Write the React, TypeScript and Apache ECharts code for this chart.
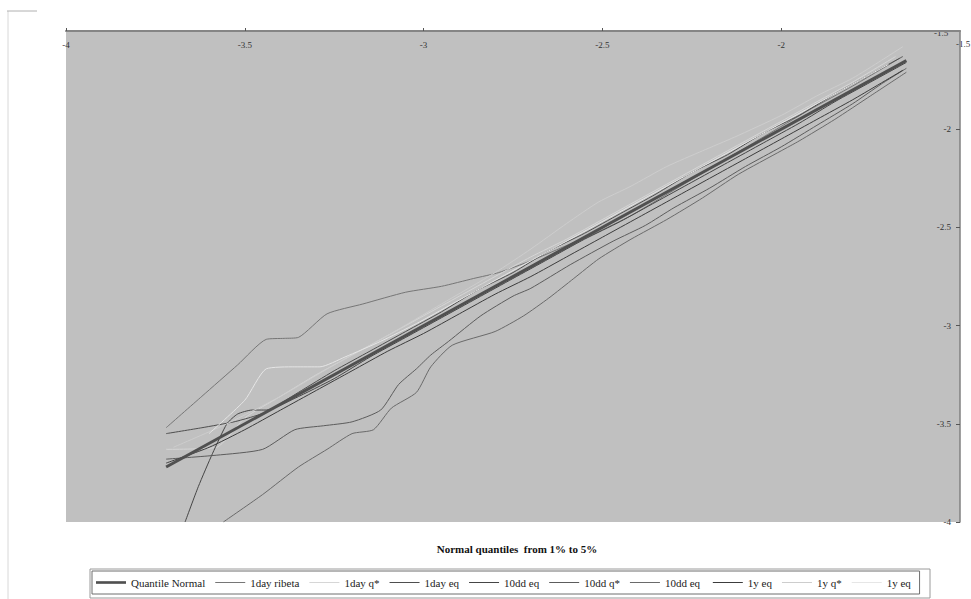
import React, { useEffect, useRef } from "react";
import * as echarts from "echarts";

// Axis ranges (normal quantiles)
const axisMin = -4;
const axisMax = -1.5;
const axisStep = 0.5;
const maxTickLabel = "-1.5";

const seriesNames = [
  "Quantile Normal",
  "1day ribeta",
  "1day q*",
  "1day eq",
  "10dd eq",
  "10dd q*",
  "10dd eq ",
  "1y eq",
  "1y q*",
  "1y eq ",
];

const quantileNormal: number[][] = [[-3.72, -3.72], [-1.65, -1.65]];

const day1Ribeta: number[][] = [
  [-3.72, -3.52], [-3.62, -3.36], [-3.52, -3.2], [-3.44, -3.07], [-3.39, -3.065], [-3.35, -3.06],
  [-3.27, -2.94], [-3.17, -2.89], [-3.05, -2.83], [-2.95, -2.8], [-2.86, -2.76], [-2.79, -2.73],
  [-2.7, -2.67], [-2.61, -2.6], [-2.52, -2.53], [-2.42, -2.44], [-2.3, -2.31], [-2.18, -2.18],
  [-2.05, -2.04], [-1.92, -1.9], [-1.8, -1.78], [-1.67, -1.64],
];

const day1Q: number[][] = [
  [-3.72, -3.63], [-3.58, -3.62], [-3.5, -3.47], [-3.4, -3.36], [-3.3, -3.25], [-3.2, -3.15],
  [-3.1, -3.05], [-3.0, -2.95], [-2.9, -2.85], [-2.8, -2.75], [-2.7, -2.65], [-2.6, -2.56],
  [-2.5, -2.46], [-2.4, -2.36], [-2.3, -2.26], [-2.2, -2.16], [-2.1, -2.06], [-2.0, -1.96],
  [-1.9, -1.86], [-1.8, -1.76], [-1.68, -1.63],
];

const day1Eq: number[][] = [
  [-3.72, -3.55], [-3.62, -3.52], [-3.53, -3.49], [-3.48, -3.465], [-3.44, -3.44], [-3.35, -3.34],
  [-3.25, -3.23], [-3.15, -3.13], [-3.05, -3.03], [-2.95, -2.93], [-2.85, -2.82], [-2.75, -2.73],
  [-2.65, -2.62], [-2.55, -2.53], [-2.45, -2.43], [-2.35, -2.33], [-2.25, -2.22], [-2.15, -2.13],
  [-2.05, -2.02], [-1.95, -1.93], [-1.85, -1.82], [-1.75, -1.72], [-1.66, -1.63],
];

const dd10Eq: number[][] = [
  [-3.667, -4.0], [-3.63, -3.82], [-3.59, -3.65], [-3.55, -3.5], [-3.52, -3.45], [-3.48, -3.43],
  [-3.44, -3.43], [-3.36, -3.37], [-3.25, -3.27], [-3.15, -3.16], [-3.05, -3.06], [-2.95, -2.96],
  [-2.85, -2.86], [-2.75, -2.76], [-2.65, -2.66], [-2.55, -2.56], [-2.45, -2.47], [-2.35, -2.37],
  [-2.25, -2.27], [-2.15, -2.17], [-2.05, -2.07], [-1.95, -1.97], [-1.85, -1.86], [-1.75, -1.76],
  [-1.65, -1.66],
];

const dd10Q: number[][] = [
  [-3.72, -3.68], [-3.58, -3.66], [-3.45, -3.63], [-3.36, -3.53], [-3.28, -3.51], [-3.2, -3.49],
  [-3.12, -3.43], [-3.07, -3.3], [-3.02, -3.22], [-2.98, -3.15], [-2.93, -3.08], [-2.84, -2.95],
  [-2.75, -2.85], [-2.7, -2.81], [-2.59, -2.69], [-2.47, -2.57], [-2.38, -2.49], [-2.3, -2.4],
  [-2.2, -2.3], [-2.1, -2.19], [-2.0, -2.09], [-1.9, -1.98], [-1.8, -1.87], [-1.72, -1.77],
  [-1.65, -1.69],
];

const dd10Eq2: number[][] = [
  [-3.56, -4.0], [-3.45, -3.86], [-3.35, -3.72], [-3.27, -3.63], [-3.2, -3.55], [-3.14, -3.53],
  [-3.09, -3.42], [-3.02, -3.34], [-2.98, -3.21], [-2.92, -3.1], [-2.8, -3.03], [-2.72, -2.95],
  [-2.65, -2.86], [-2.58, -2.76], [-2.51, -2.66], [-2.42, -2.56], [-2.32, -2.46], [-2.22, -2.35],
  [-2.12, -2.23], [-2.0, -2.11], [-1.95, -2.06], [-1.85, -1.95], [-1.75, -1.83], [-1.65, -1.71],
];

const y1Eq: number[][] = [
  [-3.72, -3.7], [-3.6, -3.62], [-3.5, -3.53], [-3.4, -3.43], [-3.3, -3.33], [-3.2, -3.23],
  [-3.1, -3.13], [-3.0, -3.04], [-2.9, -2.94], [-2.8, -2.84], [-2.7, -2.75], [-2.6, -2.65],
  [-2.5, -2.55], [-2.4, -2.45], [-2.3, -2.35], [-2.2, -2.25], [-2.1, -2.15], [-2.0, -2.05],
  [-1.9, -1.95], [-1.8, -1.85], [-1.66, -1.7],
];

const y1Q: number[][] = [
  [-3.7, -3.62], [-3.55, -3.5], [-3.4, -3.36], [-3.25, -3.2], [-3.1, -3.05], [-2.95, -2.89],
  [-2.8, -2.73], [-2.7, -2.61], [-2.6, -2.48], [-2.51, -2.37], [-2.42, -2.29], [-2.32, -2.19],
  [-2.22, -2.11], [-2.13, -2.04], [-2.0, -1.93], [-1.9, -1.83], [-1.8, -1.74], [-1.72, -1.65],
  [-1.66, -1.58],
];

const y1Eq2: number[][] = [
  [-3.6, -3.55], [-3.5, -3.38], [-3.44, -3.22], [-3.36, -3.21], [-3.29, -3.21], [-3.22, -3.16],
  [-3.12, -3.08], [-3.02, -2.99], [-2.92, -2.89], [-2.82, -2.79], [-2.72, -2.69], [-2.62, -2.59],
  [-2.52, -2.49], [-2.42, -2.39], [-2.32, -2.29], [-2.22, -2.19], [-2.12, -2.09], [-2.02, -1.99],
  [-1.92, -1.89], [-1.82, -1.79], [-1.7, -1.67],
];

const seriesData = [
  quantileNormal, day1Ribeta, day1Q, day1Eq, dd10Eq, dd10Q, dd10Eq2, y1Eq, y1Q, y1Eq2,
];
const seriesColors = [
  "#505050", "#767676", "#d6d6d6", "#4e4e4e", "#454545", "#5c5c5c", "#6a6a6a", "#3c3c3c", "#cdcdcd", "#e6e6e6",
];
const seriesWidths = [3, 1, 1, 1, 1, 1, 1, 1, 1, 1];

const axisTitle = "Normal quantiles  from 1% to 5%";
const serif = '"Liberation Serif", "Times New Roman", serif';

export default function App() {
  const ref = useRef<HTMLDivElement>(null);
  useEffect(() => {
    if (!ref.current) return;
    const chart = echarts.init(ref.current, undefined, { renderer: "svg" });
    chart.setOption({
      animation: false,
      backgroundColor: "#ffffff",
      textStyle: { fontFamily: serif },
      title: {
        text: axisTitle,
        left: 512,
        top: 538,
        textAlign: "center",
        textStyle: { fontFamily: serif, fontSize: 11, fontWeight: "bold", color: "#111" },
      },
      grid: {
        left: 66,
        right: 11,
        top: 31,
        bottom: 77,
        show: true,
        backgroundColor: "#c0c0c0",
        borderWidth: 0,
      },
      legend: {
        data: seriesNames.map((n, i) => ({
          name: n,
          icon: i === 0 ? "path://M0,0H34V3H0Z" : "path://M0,0H30V1H0Z",
        })),
        left: 92,
        top: 571,
        orient: "horizontal",
        backgroundColor: "#ffffff",
        borderColor: "#6e6e6e",
        borderWidth: 1,
        padding: [6, 6, 6, 4],
        itemGap: 10,
        itemWidth: 30,
        itemHeight: 8,
        symbolKeepAspect: true,
        textStyle: { fontFamily: serif, fontSize: 11, color: "#222" },
      },
      xAxis: {
        type: "value",
        position: "top",
        min: axisMin,
        max: axisMax,
        interval: axisStep,
        splitLine: { show: false },
        axisLine: { show: true, lineStyle: { color: "#858585", width: 2 } },
        axisTick: { show: true, length: 3, lineStyle: { color: "#555" } },
        axisLabel: {
          inside: true,
          margin: 9,
          fontFamily: serif,
          fontSize: 9,
          color: "#333",
          showMaxLabel: false,
        },
      },
      yAxis: {
        type: "value",
        position: "right",
        min: axisMin,
        max: axisMax,
        interval: axisStep,
        splitLine: { show: false },
        axisLine: { show: true, lineStyle: { color: "#808080", width: 1.5 } },
        axisTick: { show: true, inside: true, length: 4, lineStyle: { color: "#555" } },
        axisLabel: {
          inside: true,
          margin: 9,
          fontFamily: serif,
          fontSize: 9,
          color: "#333",
          showMaxLabel: false,
        },
      },
      graphic: [
        { type: "line", shape: { x1: 8, y1: 11, x2: 8, y2: 599 }, style: { stroke: "#d8d8d8", lineWidth: 1 } },
        { type: "line", shape: { x1: 7, y1: 11, x2: 37, y2: 11 }, style: { stroke: "#b0b0b0", lineWidth: 1 } },
        { type: "rect", shape: { x: 90, y: 569, width: 840, height: 29 }, style: { fill: "none", stroke: "#9a9a9a", lineWidth: 1 } },
        { type: "text", x: 934, y: 28, style: { text: maxTickLabel, font: "9px " + serif, fill: "#333" } },
        { type: "text", x: 956, y: 39, style: { text: maxTickLabel, font: "9px " + serif, fill: "#333" } },
      ],
      series: seriesData.map((d, i) => ({
        name: seriesNames[i],
        type: "line",
        data: d,
        symbol: "none",
        smooth: i === 0 ? false : 0.2,
        z: i === 0 ? 5 : 3,
        lineStyle: { color: seriesColors[i], width: seriesWidths[i] },
        itemStyle: { color: seriesColors[i] },
      })),
    });
    return () => chart.dispose();
  }, []);
  return <div ref={ref} style={{ position: "fixed", left: 0, top: 0, width: 971, height: 599 }} />;
}
